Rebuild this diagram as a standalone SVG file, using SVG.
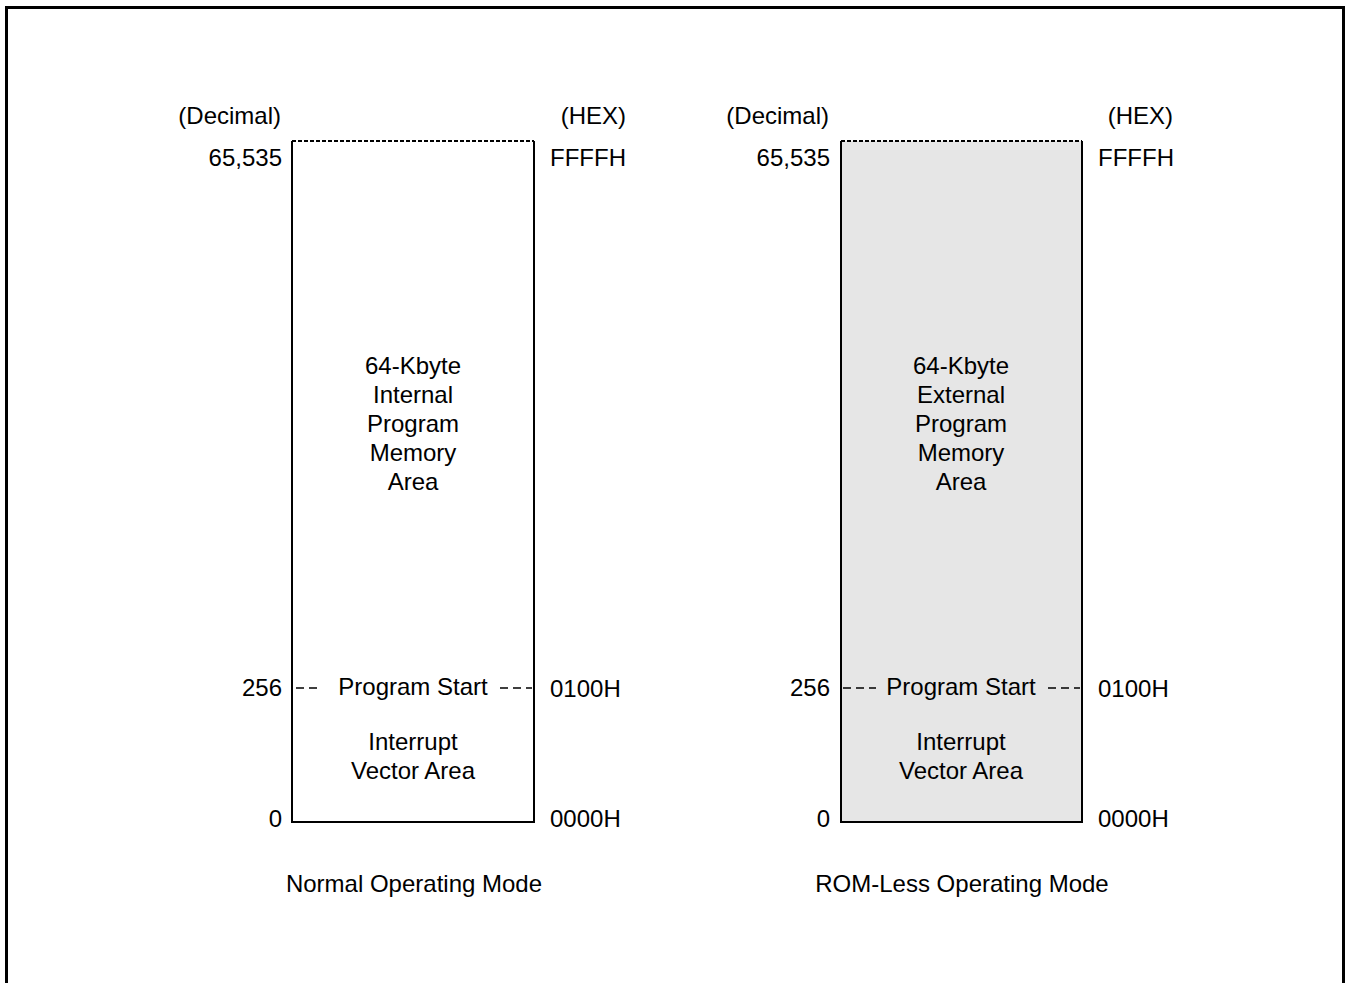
<svg xmlns="http://www.w3.org/2000/svg" width="1350" height="983" viewBox="0 0 1350 983">
<style>
text{font-family:"Liberation Sans",Arial,sans-serif;font-size:24px;fill:#000}
.r{text-anchor:end}.c{text-anchor:middle}
.box{stroke:#000;stroke-width:2}
.dot{stroke:#000;stroke-width:2;stroke-dasharray:4 2}
.dash{stroke:#000;stroke-width:1.5;stroke-dasharray:8 5}
</style>
<rect width="1350" height="983" fill="#fff"/>
<path d="M6.5 990V7.5H1343.5V990" fill="none" stroke="#000" stroke-width="3"/>
<g id="normal">
<path class="box" d="M292 141V822H534V141" fill="#fff"/>
<line class="dot" x1="292" y1="141" x2="534" y2="141"/>
<line class="dash" x1="296" y1="688" x2="322" y2="688"/>
<line class="dash" x1="500" y1="688" x2="532" y2="688"/>
<text class="r" x="281" y="124">(Decimal)</text>
<text class="r" x="626" y="124">(HEX)</text>
<text class="r" x="282" y="166">65,535</text>
<text x="550" y="166">FFFFH</text>
<text class="c" x="413" y="374">64-Kbyte</text>
<text class="c" x="413" y="403">Internal</text>
<text class="c" x="413" y="432">Program</text>
<text class="c" x="413" y="461">Memory</text>
<text class="c" x="413" y="490">Area</text>
<text class="r" x="282" y="696">256</text>
<text class="c" x="413" y="695">Program Start</text>
<text x="550" y="697">0100H</text>
<text class="c" x="413" y="750">Interrupt</text>
<text class="c" x="413" y="779">Vector Area</text>
<text class="r" x="282" y="827">0</text>
<text x="550" y="827">0000H</text>
<text class="c" x="414" y="892">Normal Operating Mode</text>
</g>
<g id="romless">
<path class="box" d="M841 141V822H1082V141" fill="#e6e6e6"/>
<line class="dot" x1="841" y1="141" x2="1082" y2="141"/>
<line class="dash" x1="843" y1="688" x2="876" y2="688"/>
<line class="dash" x1="1048" y1="688" x2="1080" y2="688"/>
<text class="r" x="829" y="124">(Decimal)</text>
<text class="r" x="1173" y="124">(HEX)</text>
<text class="r" x="830" y="166">65,535</text>
<text x="1098" y="166">FFFFH</text>
<text class="c" x="961" y="374">64-Kbyte</text>
<text class="c" x="961" y="403">External</text>
<text class="c" x="961" y="432">Program</text>
<text class="c" x="961" y="461">Memory</text>
<text class="c" x="961" y="490">Area</text>
<text class="r" x="830" y="696">256</text>
<text class="c" x="961" y="695">Program Start</text>
<text x="1098" y="697">0100H</text>
<text class="c" x="961" y="750">Interrupt</text>
<text class="c" x="961" y="779">Vector Area</text>
<text class="r" x="830" y="827">0</text>
<text x="1098" y="827">0000H</text>
<text class="c" x="962" y="892">ROM-Less Operating Mode</text>
</g>
<g id="connectors"></g>
</svg>
